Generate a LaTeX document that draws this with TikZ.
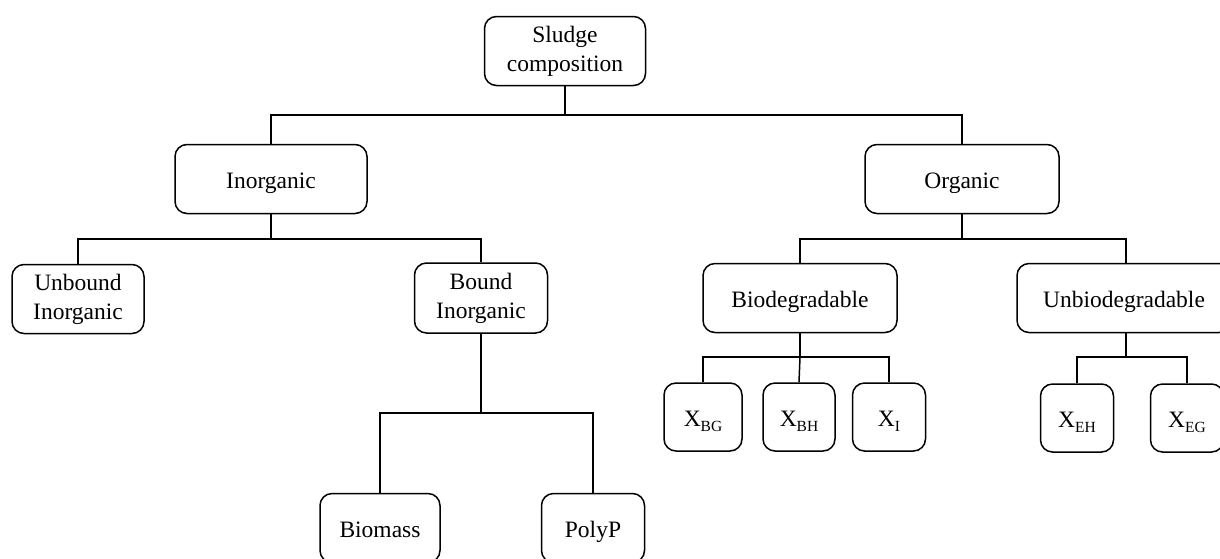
\documentclass[tikz,border=0pt]{standalone}
\usepackage{fontspec}
\setmainfont{Liberation Serif}
\newcommand{\subtxt}[1]{\raisebox{-4.5pt}{\fontsize{15.5}{16}\selectfont #1}}
\begin{document}
\begin{tikzpicture}[x=1pt,y=-1pt,
  box/.style={draw, line width=1.5pt, rounded corners=12pt, inner sep=0pt, align=center,
    font=\fontsize{23.5}{29}\selectfont},
  one/.style={box, text height=19pt, text depth=0pt},
  conn/.style={line width=1.5pt}]
\useasboundingbox (0,0) rectangle (1220,558);
\clip (0,0) rectangle (1220,558);
\node[box, minimum width=161, minimum height=69] (sludge) at (565,51) {Sludge\\composition};
\node[one, minimum width=192, minimum height=69] (inorg) at (271,179) {Inorganic};
\node[one, minimum width=194, minimum height=69] (org) at (962,179) {Organic};
\node[box, minimum width=132, minimum height=69] (unb) at (78,299) {Unbound\\Inorganic};
\node[box, minimum width=133, minimum height=70] (bnd) at (481,298) {Bound\\Inorganic};
\node[one, minimum width=194, minimum height=69] (bio) at (800,298) {Biodegradable};
\node[one, minimum width=214, minimum height=69] (unbio) at (1124,298) {Unbiodegradable};
\node[one, minimum width=120, minimum height=69] (biomass) at (380,528) {Biomass};
\node[one, minimum width=103, minimum height=69] (polyp) at (593,528) {PolyP};
\node[one, minimum width=78, minimum height=68] (xbg) at (703,417) {X\subtxt{BG}};
\node[one, minimum width=72, minimum height=68] (xbh) at (799,417) {X\subtxt{BH}};
\node[one, minimum width=73, minimum height=68] (xi) at (889,417) {X\subtxt{I}};
\node[one, minimum width=73, minimum height=68] (xeh) at (1077,418) {X\subtxt{EH}};
\node[one, minimum width=73, minimum height=68] (xeg) at (1187,418) {X\subtxt{EG}};
% connectors
\coordinate (j1) at (sludge.south |- 0,115);
\draw[conn] (sludge.south) -- (j1);
\draw[conn] (j1) -| (inorg.north);
\draw[conn] (j1) -| (org.north);
\coordinate (j2) at (inorg.south |- 0,239);
\draw[conn] (inorg.south) -- (j2);
\draw[conn] (j2) -| (unb.north);
\draw[conn] (j2) -| (bnd.north);
\coordinate (j3) at (bnd.south |- 0,413);
\draw[conn] (bnd.south) -- (j3);
\draw[conn] (j3) -| (biomass.north);
\draw[conn] (j3) -| (polyp.north);
\coordinate (j4) at (org.south |- 0,239);
\draw[conn] (org.south) -- (j4);
\draw[conn] (j4) -| (bio.north);
\draw[conn] (j4) -| ([xshift=2pt]unbio.north);
\coordinate (j5) at (bio.south |- 0,357);
\draw[conn] (bio.south) -- (j5);
\draw[conn] (j5) -| (xbg.north);
\draw[conn] (j5) -| (xi.north);
\draw[conn] (j5) -- (xbh.north);
\coordinate (j6) at ([xshift=2pt]unbio.south |- 0,357);
\draw[conn] ([xshift=2pt]unbio.south) -- (j6);
\draw[conn] (j6) -| (xeh.north);
\draw[conn] (j6) -| (xeg.north);
\end{tikzpicture}
\end{document}
